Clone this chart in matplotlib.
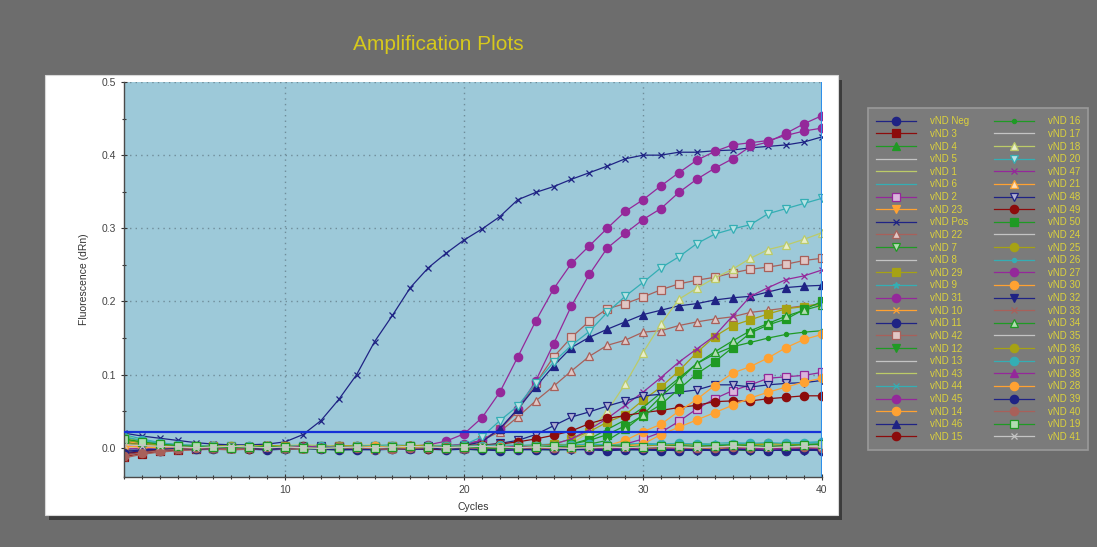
import numpy as np
import matplotlib.pyplot as plt
from matplotlib.patches import Rectangle
from matplotlib.colors import to_rgb

# --------------------------
# data: fluorescence (dRn) per cycle, stored in thousandths
# --------------------------
cycles = list(range(1, 41))

vnd_neg = [8, 4, 2, 1, 0, 1, 0, -1, 0, 1, 0, 1, 2, 1, 0, 1, 2, 1, 1, 0, 1, 2, 1, 0, 1, 2, 1, 1, 2, 1, 0, 1, 2, 1, 2, 1, 0, 1, 2, 1]
vnd_3 = [-12, -8, -5, -3, -2, -1, 0, -1, 0, 0, -1, 0, 1, 0, 0, -1, 0, 1, 0, 0, 1, 0, 0, 1, 0, -1, 0, 1, 0, 0, 1, 0, 0, -1, 0, 1, 0, 0, 1, 0]
vnd_4 = [14, 9, 6, 4, 3, 2, 2, 1, 2, 1, 2, 3, 2, 1, 2, 3, 2, 2, 3, 2, 1, 2, 3, 2, 3, 4, 3, 2, 3, 4, 3, 4, 5, 4, 3, 4, 5, 4, 5, 6]
vnd_5 = [10, 6, 3, 2, 1, 0, 1, 0, -1, 0, 1, 0, -1, 0, 1, 0, 0, -1, 0, 1, 0, -1, 0, 0, 1, 0, -1, 0, 0, 1, 0, -1, 0, 0, 1, 0, -1, 0, 0, 1]
vnd_1 = [16, 10, 6, 4, 3, 3, 2, 3, 2, 3, 4, 3, 2, 3, 4, 3, 3, 4, 3, 2, 3, 4, 3, 4, 3, 2, 3, 4, 5, 4, 3, 4, 5, 4, 5, 6, 5, 4, 5, 6]
vnd_6 = [12, 7, 4, 2, 1, 2, 1, 0, 1, 2, 1, 0, 1, 2, 1, 1, 0, 1, 2, 1, 0, 1, 2, 3, 2, 1, 2, 3, 2, 3, 4, 3, 2, 3, 4, 3, 4, 5, 4, 6]
vnd_2 = [4, 2, 1, 0, 1, 2, 1, 0, 1, 0, -1, 0, 1, 0, 1, 2, 1, 0, 1, 0, 1, 2, 1, 2, 1, 2, 3, 2, 5, 12, 21, 36, 53, 67, 78, 86, 95, 97, 99, 103]
vnd_23 = [4, 2, 1, 0, -1, 0, 1, 0, -1, -2, -1, 0, -1, 0, 1, 0, -1, 0, -1, -2, -1, 0, 1, 0, -1, 0, -1, 0, 1, 0, -1, -2, -1, 0, -1, 0, 1, 0, -1, 0]
vnd_pos = [20, 16, 13, 10, 7, 5, 4, 4, 5, 8, 18, 37, 66, 100, 145, 181, 219, 246, 266, 284, 299, 316, 339, 349, 357, 367, 376, 385, 395, 400, 400, 404, 404, 406, 407, 410, 412, 414, 418, 425]
vnd_22 = [-4, -2, -1, 0, 1, 0, 1, 2, 1, 0, 1, 0, 1, 2, 1, 2, 1, 2, 3, 5, 10, 22, 42, 64, 84, 105, 125, 140, 147, 158, 160, 167, 172, 176, 179, 185, 188, 191, 194, 196]
vnd_7 = [6, 3, 1, 0, -1, -2, -1, 0, -1, -2, -1, -2, -3, -2, -1, -2, -1, 0, -1, -2, -3, -2, -1, -2, -3, -2, -1, -2, -3, -2, -3, -4, -3, -2, -3, -4, -3, -2, -3, -4]
vnd_8 = [2, 1, 0, 1, 0, 1, 2, 1, 0, 1, 2, 1, 0, 1, 2, 1, 0, 1, 0, 1, 2, 1, 0, 1, 2, 1, 0, 1, 2, 1, 0, 1, 2, 1, 0, 1, 2, 1, 2, 1]
vnd_29 = [13, 8, 5, 3, 2, 3, 2, 1, 2, 3, 2, 1, 2, 3, 2, 3, 2, 1, 2, 3, 2, 3, 2, 3, 5, 12, 22, 35, 45, 65, 83, 105, 130, 152, 167, 175, 183, 190, 193, 197]
vnd_9 = [18, 12, 7, 4, 3, 2, 3, 2, 1, 2, 3, 2, 1, 2, 3, 4, 3, 2, 3, 4, 3, 2, 3, 4, 5, 4, 3, 4, 5, 6, 5, 4, 5, 6, 7, 6, 5, 6, 7, 8]
vnd_31 = [5, 3, 2, 1, 0, 1, 0, 1, 2, 1, 0, 1, 2, 1, 2, 1, 2, 4, 9, 19, 41, 76, 124, 173, 217, 252, 276, 300, 323, 339, 358, 376, 393, 405, 414, 417, 420, 427, 433, 437]
vnd_10 = [-6, -4, -2, -1, 0, -1, 0, 1, 0, -1, 0, 1, 0, 0, -1, 0, 1, 0, -1, 0, 1, 2, 1, 0, 1, 0, -1, 0, 1, 0, 1, 2, 1, 0, 1, 0, 1, 2, 1, 0]
vnd_11 = [-10, -6, -4, -2, -1, -2, -1, -2, -3, -2, -1, -2, -3, -2, -3, -2, -1, -2, -3, -2, -3, -4, -3, -2, -3, -2, -3, -4, -3, -2, -3, -4, -3, -4, -3, -2, -3, -4, -3, -4]
vnd_42 = [-9, -5, -3, -1, 0, 1, 0, 1, 2, 1, 0, 1, 2, 1, 0, 1, 2, 1, 2, 3, 10, 25, 50, 88, 124, 151, 173, 190, 197, 206, 216, 224, 229, 233, 239, 244, 247, 251, 256, 259]
vnd_12 = [8, 5, 3, 2, 1, 0, -1, 0, 1, 0, -1, 0, 1, 0, -1, -2, -1, 0, -1, 0, 1, 0, -1, 0, -1, -2, -1, 0, -1, 0, -1, -2, -1, 0, 1, 0, -1, 0, -1, 0]
vnd_13 = [3, 2, 1, 2, 1, 0, 1, 2, 1, 0, 1, 2, 1, 2, 1, 0, 1, 2, 1, 2, 3, 2, 1, 2, 3, 2, 1, 2, 3, 2, 3, 2, 1, 2, 3, 2, 3, 4, 3, 2]
vnd_43 = [13, 8, 5, 3, 2, 1, 2, 3, 2, 1, 2, 1, 0, 1, 2, 1, 2, 3, 2, 1, 2, 1, 2, 3, 2, 3, 4, 3, 2, 3, 4, 3, 4, 5, 4, 3, 4, 5, 4, 5]
vnd_44 = [10, 6, 4, 2, 1, 0, 1, 0, 1, 2, 1, 0, 1, 0, -1, 0, 1, 0, 1, 2, 1, 0, 1, 2, 1, 2, 3, 2, 1, 2, 3, 2, 3, 4, 3, 2, 3, 4, 5, 6]
vnd_45 = [9, 6, 3, 2, 1, 0, 1, 0, 1, 2, 1, 0, 1, 2, 1, 0, 1, 1, 2, 5, 10, 25, 53, 91, 142, 194, 237, 273, 293, 312, 327, 349, 367, 382, 395, 412, 418, 430, 443, 454]
vnd_14 = [-4, -2, -1, 0, 1, 0, -1, 0, 1, 0, 0, 1, 0, -1, 0, 1, 0, 1, 2, 1, 0, 1, 0, -1, 0, 1, 0, -1, 0, 1, 0, 1, 0, -1, 0, 1, 2, 1, 0, 1]
vnd_46 = [6, 3, 2, 1, 0, 1, 0, -1, 0, 1, 0, 1, 0, 1, 2, 1, 0, 1, 2, 3, 8, 26, 53, 83, 112, 137, 151, 162, 172, 182, 188, 194, 197, 202, 205, 207, 213, 219, 221, 222]
vnd_15 = [-8, -5, -3, -2, -1, 0, -1, -2, -1, 0, -1, 0, 1, 0, -1, 0, -1, -2, -1, 0, -1, 0, 1, 0, -1, 0, -1, -2, -1, 0, -1, -2, -1, 0, -1, -2, -1, 0, -1, -2]
vnd_16 = [8, 5, 3, 2, 1, 2, 1, 0, 1, 2, 1, 0, 1, 2, 1, 0, 1, 2, 1, 2, 1, 0, 1, 2, 3, 5, 12, 25, 38, 55, 75, 95, 115, 128, 138, 144, 150, 155, 158, 160]
vnd_17 = [0, 1, 0, 1, 2, 1, 0, 1, 2, 1, 0, 1, 0, 1, 2, 1, 0, 1, 2, 1, 0, 1, 2, 1, 2, 1, 0, 1, 2, 1, 2, 3, 2, 1, 2, 3, 2, 1, 2, 3]
vnd_18 = [10, 6, 4, 3, 2, 1, 2, 3, 2, 1, 2, 3, 2, 1, 2, 3, 2, 3, 2, 1, 2, 3, 2, 3, 2, 5, 22, 50, 87, 130, 169, 203, 218, 232, 244, 259, 271, 277, 285, 294]
vnd_20 = [7, 4, 2, 1, 0, 1, 2, 1, 0, 1, 2, 1, 0, 1, 2, 1, 2, 1, 2, 4, 15, 37, 57, 88, 117, 140, 159, 185, 207, 226, 246, 261, 279, 292, 299, 305, 320, 327, 334, 341]
vnd_47 = [3, 2, 1, 0, 1, 0, -1, 0, 1, 0, 1, 2, 1, 0, 1, 0, 1, 2, 1, 0, 1, 2, 1, 2, 5, 12, 25, 40, 58, 76, 96, 117, 135, 153, 180, 207, 219, 230, 235, 243]
vnd_21 = [9, 5, 3, 1, 0, -1, 0, 1, 0, -1, 0, 1, 0, -1, -2, -1, 0, 1, 0, -1, 0, 1, 0, 1, 0, -1, 0, 1, 2, 1, 0, 1, 0, -1, 0, 1, 0, 1, 2, 1]
vnd_48 = [-5, -3, -1, 0, 1, 0, 1, 0, -1, 0, 1, 2, 1, 0, 1, 0, 1, 2, 1, 2, 3, 6, 10, 18, 30, 42, 49, 57, 64, 71, 73, 76, 79, 86, 86, 83, 86, 88, 89, 92]
vnd_49 = [-3, -1, 0, 1, 0, -1, 0, 1, 0, 1, 2, 1, 0, 1, 0, 1, 2, 1, 2, 3, 4, 5, 8, 12, 17, 23, 33, 40, 44, 48, 51, 55, 58, 63, 64, 64, 67, 69, 71, 71]
vnd_50 = [11, 7, 4, 2, 1, 0, 1, 0, -1, 0, 1, 0, -1, 0, 1, 0, 1, 0, 1, 0, 1, 0, 1, 2, 1, 5, 10, 18, 30, 44, 59, 80, 101, 117, 137, 157, 168, 176, 189, 200]
vnd_24 = [5, 3, 2, 1, 2, 1, 0, 1, 2, 1, 2, 1, 0, 1, 0, 1, 2, 1, 0, 1, 2, 3, 2, 1, 2, 1, 2, 3, 2, 1, 2, 3, 2, 3, 2, 1, 2, 3, 2, 3]
vnd_25 = [11, 7, 4, 2, 1, 2, 1, 2, 3, 2, 1, 2, 1, 0, 1, 2, 3, 2, 1, 2, 3, 2, 1, 2, 3, 4, 3, 2, 3, 4, 3, 4, 3, 2, 3, 4, 5, 4, 3, 4]
vnd_26 = [-3, -2, -1, 0, -1, 0, 1, 0, -1, 0, 1, 0, -1, 0, 1, 2, 1, 0, 1, 0, -1, 0, 1, 0, 1, 2, 1, 0, 1, 2, 1, 2, 3, 2, 1, 2, 3, 2, 3, 4]
vnd_27 = [7, 4, 2, 1, 0, 1, 0, -1, 0, 1, 0, -1, 0, -1, -2, -1, 0, -1, 0, 1, 0, -1, -2, -1, 0, -1, -2, -1, 0, -1, -2, -1, -2, -3, -2, -1, -2, -3, -2, -3]
vnd_30 = [-6, -3, -2, -1, 0, 1, 0, 1, 0, -1, 0, 1, 0, 1, 2, 1, 0, 1, 0, 1, 2, 1, 0, 1, 0, 1, 2, 3, 10, 22, 32, 50, 66, 85, 102, 111, 123, 137, 148, 155]
vnd_32 = [-5, -3, -2, -1, 0, -1, -2, -1, 0, -1, 0, 1, 0, -1, 0, -1, -2, -1, 0, -1, -2, -1, 0, -1, -2, -3, -2, -1, -2, -3, -2, -3, -4, -3, -2, -3, -4, -3, -4, -3]
vnd_33 = [-14, -9, -6, -4, -3, -2, -3, -2, -1, -2, -1, 0, -1, -2, -1, 0, -1, 0, 1, 0, -1, 0, -1, -2, -1, 0, -1, 0, 1, 0, -1, 0, 1, 0, -1, 0, 1, 0, -1, 0]
vnd_34 = [6, 4, 2, 1, 0, 1, 2, 1, 0, 1, 0, 1, 2, 1, 0, 1, 2, 1, 0, 1, 2, 1, 2, 1, 2, 3, 5, 10, 25, 45, 70, 92, 115, 131, 146, 160, 170, 180, 188, 195]
vnd_35 = [1, 0, 1, 2, 1, 0, 1, 0, 1, 2, 1, 2, 1, 0, 1, 2, 1, 0, 1, 2, 3, 2, 1, 2, 1, 2, 3, 2, 3, 2, 1, 2, 3, 4, 3, 2, 3, 4, 3, 4]
vnd_36 = [6, 4, 2, 1, 2, 3, 2, 1, 2, 1, 0, 1, 2, 3, 2, 1, 2, 3, 2, 3, 2, 1, 2, 3, 4, 3, 2, 3, 4, 3, 4, 5, 4, 3, 4, 5, 6, 5, 4, 5]
vnd_37 = [15, 10, 6, 4, 3, 2, 1, 2, 1, 0, 1, 2, 1, 2, 3, 2, 1, 2, 3, 2, 3, 4, 3, 2, 3, 4, 5, 4, 3, 4, 5, 6, 5, 4, 5, 6, 7, 6, 7, 8]
vnd_38 = [-2, -1, 0, 1, 0, -1, 0, 1, 0, 1, 2, 1, 0, 1, 0, -1, 0, 1, 0, -1, 0, 1, 2, 1, 0, 1, 0, -1, 0, 1, 0, -1, 0, 1, 0, -1, -2, -1, 0, -1]
vnd_28 = [2, 1, 0, -1, 0, 1, 0, -1, 0, 1, 0, -1, 0, 1, 2, 1, 0, 1, 0, -1, 0, 1, 0, 1, 2, 1, 0, 1, 2, 5, 18, 28, 38, 48, 58, 68, 76, 83, 90, 95]
vnd_39 = [-7, -4, -2, -1, -2, -1, 0, -1, -2, -1, 0, -1, -2, -3, -2, -1, -2, -1, 0, -1, -2, -1, -2, -3, -2, -1, -2, -3, -2, -3, -4, -3, -2, -3, -2, -3, -4, -3, -2, -3]
vnd_40 = [-11, -7, -4, -2, -1, 0, -1, 0, 1, 0, -1, 0, 1, 0, -1, -2, -1, 0, 1, 0, -1, 0, 1, 0, -1, 0, 1, 2, 1, 0, 1, 0, -1, 0, 1, 0, 1, 2, 1, 0]
vnd_19 = [12, 8, 5, 3, 2, 1, 0, 1, 2, 1, 0, -1, 0, 1, 0, 1, 2, 1, 0, 1, 0, -1, 0, 1, 2, 1, 2, 3, 2, 1, 2, 3, 2, 3, 4, 3, 2, 3, 4, 5]
vnd_41 = [4, 3, 2, 1, 0, 1, 2, 1, 0, 1, 0, -1, 0, 1, 0, 1, 2, 1, 0, 1, 2, 1, 0, 1, 0, -1, 0, 1, 0, 1, 2, 1, 0, 1, 2, 1, 0, 1, 2, 1]

labels = ["vND Neg", "vND 3", "vND 4", "vND 5", "vND 1", "vND 6", "vND 2", "vND 23",
          "vND Pos", "vND 22", "vND 7", "vND 8", "vND 29", "vND 9", "vND 31", "vND 10",
          "vND 11", "vND 42", "vND 12", "vND 13", "vND 43", "vND 44", "vND 45", "vND 14",
          "vND 46", "vND 15", "vND 16", "vND 17", "vND 18", "vND 20", "vND 47", "vND 21",
          "vND 48", "vND 49", "vND 50", "vND 24", "vND 25", "vND 26", "vND 27", "vND 30",
          "vND 32", "vND 33", "vND 34", "vND 35", "vND 36", "vND 37", "vND 38", "vND 28",
          "vND 39", "vND 40", "vND 19", "vND 41"]

series = [vnd_neg, vnd_3, vnd_4, vnd_5, vnd_1, vnd_6, vnd_2, vnd_23,
          vnd_pos, vnd_22, vnd_7, vnd_8, vnd_29, vnd_9, vnd_31, vnd_10,
          vnd_11, vnd_42, vnd_12, vnd_13, vnd_43, vnd_44, vnd_45, vnd_14,
          vnd_46, vnd_15, vnd_16, vnd_17, vnd_18, vnd_20, vnd_47, vnd_21,
          vnd_48, vnd_49, vnd_50, vnd_24, vnd_25, vnd_26, vnd_27, vnd_30,
          vnd_32, vnd_33, vnd_34, vnd_35, vnd_36, vnd_37, vnd_38, vnd_28,
          vnd_39, vnd_40, vnd_19, vnd_41]

threshold = 0.022

# --------------------------
# styles
# --------------------------
NV, DR, BR, GR = "#1f2384", "#8c0c0c", "#a8605a", "#1f9a24"
LG, KH, OL, TE = "#c4c4c4", "#bccb68", "#a6a214", "#34aeb4"
PU, OR = "#94289a", "#ffa232"
colors = [NV, DR, GR, LG, KH, TE, PU, OR,
          NV, BR, GR, LG, OL, TE, PU, OR,
          NV, BR, GR, LG, KH, TE, PU, OR,
          NV, DR, GR, LG, KH, TE, PU, OR,
          NV, DR, GR, LG, OL, TE, PU, OR,
          NV, BR, GR, LG, OL, TE, PU, OR,
          NV, BR, GR, LG]
markers = ["o", "s", "^", "", "", "", "s", "v",
           "x", "^", "v", "", "s", "*", "o", "x",
           "o", "s", "v", "", "", "x", "o", "o",
           "^", "o", ".", "", "^", "v", "x", "^",
           "v", "o", "s", "", "o", ".", "o", "o",
           "v", "x", "^", "", "o", "o", "^", "o",
           "o", "o", "s", "x"]
hollow = {"vND 2", "vND 22", "vND 7", "vND 42", "vND 18", "vND 20", "vND 21", "vND 48", "vND 34", "vND 19"}


def tint(c, amt=0.65):
    r, g, b = to_rgb(c)
    return (r + (1 - r) * amt, g + (1 - g) * amt, b + (1 - b) * amt)


plt.rcParams["font.family"] = ["Liberation Sans", "DejaVu Sans"]

fig = plt.figure(figsize=(10.97, 5.47), dpi=100, facecolor="#6d6d6d")
W, H = 1097.0, 547.0

# white panel with shadow
fig.patches.append(Rectangle((49 / W, 1 - 520 / H), 793 / W, 440 / H, transform=fig.transFigure,
                             facecolor="#3c3c3c", edgecolor="none", zorder=0))
fig.patches.append(Rectangle((45 / W, 1 - 515 / H), 793 / W, 440 / H, transform=fig.transFigure,
                             facecolor="white", edgecolor="#d8d8d8", lw=0.8, zorder=1))

fig.text(438 / W, 1 - 45 / H, "Amplification Plots", color="#d6c81c", fontsize=15,
         ha="center", va="center")

ax = fig.add_axes([124 / W, 1 - 477 / H, 698 / W, 395 / H])
ax.set_facecolor("#9dc9d9")
ax.set_zorder(2)

handles = []
for lab, ys, c, m in zip(labels, series, colors, markers):
    fc = tint(c) if lab in hollow else c
    ms = 5.5 if m in ("s", "^", "v") else 5
    if m == "o":
        ms = 6
    if m == ".":
        ms = 6
    (ln,) = ax.plot(cycles, np.array(ys) / 1000.0, color=c, lw=0.9, marker=m if m else None,
                    ms=ms, mfc=fc, mec=c, mew=0.9)
    handles.append(ln)

ax.axhline(threshold, color="#1530d8", lw=1.6, zorder=5)
ax.axvline(40, color="#2e8fea", lw=2.2, zorder=5)

ax.set_xlim(1, 40)
ax.set_ylim(-0.04, 0.5)
ax.set_xticks([10, 20, 30, 40])
ax.set_xticks(range(1, 41), minor=True)
ax.set_yticks([0.0, 0.1, 0.2, 0.3, 0.4, 0.5])
ax.set_yticklabels(["0.0", "0.1", "0.2", "0.3", "0.4", "0.5"])
ax.set_yticks(np.arange(0, 0.51, 0.05), minor=True)
ax.tick_params(which="both", direction="inout", color="#333333", labelsize=7.5,
               labelcolor="#444444", length=4, width=0.8)
ax.tick_params(which="minor", length=3)
ax.grid(True, which="major", color="#6f8c99", linestyle=(0, (1, 3)), lw=1.0)
for s in ("top", "right"):
    ax.spines[s].set_visible(False)
for s in ("left", "bottom"):
    ax.spines[s].set_color("#4a4a4a")
    ax.spines[s].set_linewidth(1.0)

ax.set_xlabel("Cycles", fontsize=7.5, color="#333333", labelpad=5)
ax.set_ylabel("Fluorescence (dRn)", fontsize=7.5, color="#333333", labelpad=9)

leg = fig.legend(handles, labels, ncol=2, loc="upper left",
                 bbox_to_anchor=(868 / W, 1 - 108 / H), fontsize=7,
                 labelcolor="#dcd23c", facecolor="#7b7b7b", edgecolor="#9a9a9a",
                 framealpha=1, fancybox=False, handlelength=4.1, handletextpad=1.4,
                 columnspacing=2.6, labelspacing=0.27, borderpad=0.85, borderaxespad=0)
leg.get_frame().set_linewidth(1.2)

fig.savefig("out.png", dpi=100, facecolor=fig.get_facecolor())
